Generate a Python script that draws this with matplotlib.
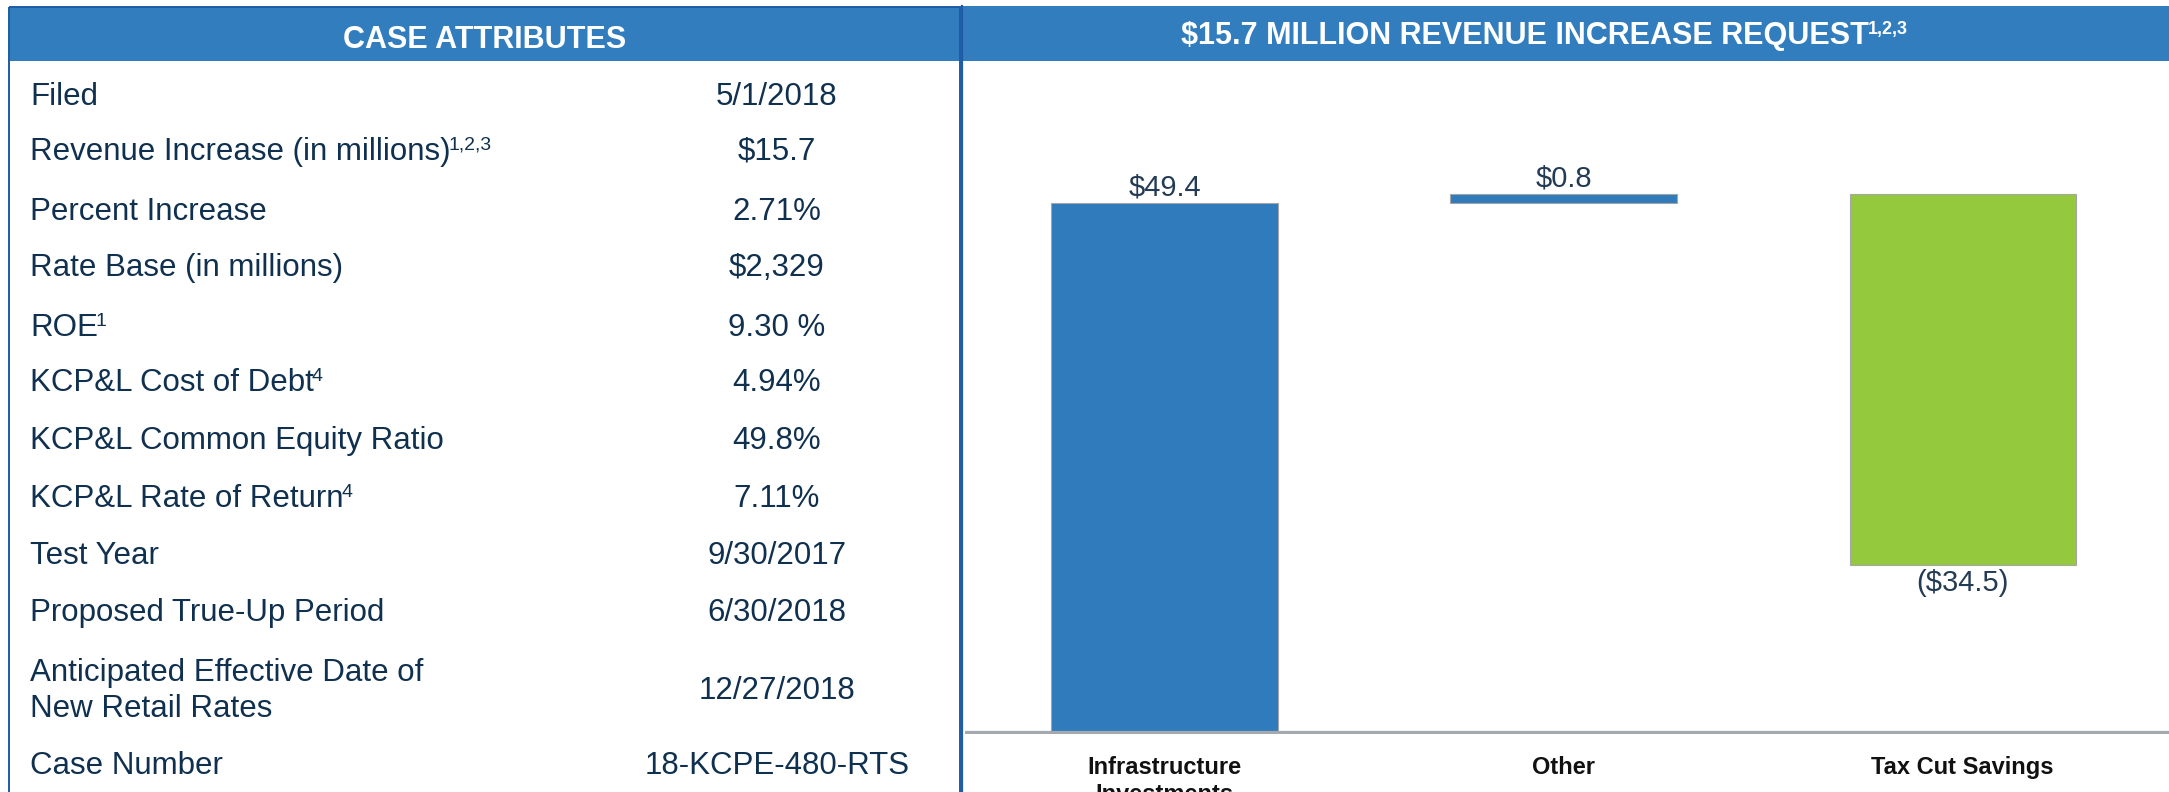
import matplotlib
matplotlib.use("Agg")
import matplotlib.pyplot as plt
from matplotlib.patches import Rectangle
import numpy as np

plt.rcParams["font.family"] = ["Liberation Sans", "DejaVu Sans"]

# ── Case attributes table ──
row_labels = [
    "Filed",
    "Revenue Increase (in millions)",
    "Percent Increase",
    "Rate Base (in millions)",
    "ROE",
    "KCP&L Cost of Debt",
    "KCP&L Common Equity Ratio",
    "KCP&L Rate of Return",
    "Test Year",
    "Proposed True-Up Period",
    "Anticipated Effective Date of\nNew Retail Rates",
    "Case Number",
]
row_notes = ["", "1,2,3", "", "", "1", "4", "", "4", "", "", "", ""]
row_values = [
    "5/1/2018", "$15.7", "2.71%", "$2,329", "9.30 %", "4.94%", "49.8%",
    "7.11%", "9/30/2017", "6/30/2018", "12/27/2018", "18-KCPE-480-RTS",
]

# ── Revenue bridge ──
categories = ["Infrastructure\nInvestments", "Other", "Tax Cut Savings"]
changes = [49.4, 0.8, -34.5]
bar_colors = ["#2F7BBC", "#2F7BBC", "#94C83D"]

left_title = "CASE ATTRIBUTES"
right_title = "$15.7 MILLION REVENUE INCREASE REQUEST"
right_note = "1,2,3"

W, H = 2169, 792
BLUE = "#317DBD"
EDGE = "#1E5CA8"
TXT = "#10304F"

fig = plt.figure(figsize=(W / 100, H / 100), dpi=100)

# panel frame drawn in pixel coordinates
bg = fig.add_axes([0, 0, 1, 1])
bg.set_xlim(0, W)
bg.set_ylim(H, 0)
bg.axis("off")

bg.add_patch(Rectangle((9, 7), 951, 54, color=BLUE, lw=0))
bg.add_patch(Rectangle((962, 6), W - 962, 55, color=BLUE, lw=0))
bg.add_patch(Rectangle((9, 7), 951, 830, fill=False, edgecolor=EDGE, lw=1.4))
bg.plot([962, 962], [6, H], color=EDGE, lw=1.6)

bg.text(485, 40, left_title, color="white", fontsize=22, fontweight="bold",
        ha="center", va="center")
t = bg.text(1525, 36, right_title, color="white", fontsize=22,
            fontweight="bold", ha="center", va="center")
bg.annotate(right_note, xy=(1, 1), xycoords=t, xytext=(-1, 0),
            textcoords="offset points", color="white", fontsize=13,
            fontweight="bold", ha="left", va="top")

row_y = [97, 152, 212, 268, 328, 383, 441, 499, 556, 613, 691, 766]
for lab, note, val, y in zip(row_labels, row_notes, row_values, row_y):
    lt = bg.text(30, y, lab, color=TXT, fontsize=22.5, ha="left",
                 va="center", linespacing=1.25)
    if note:
        bg.annotate(note, xy=(1, 1), xycoords=lt, xytext=(-1.5, 0),
                    textcoords="offset points", color=TXT, fontsize=14,
                    ha="left", va="top")
    bg.text(777, y, val, color=TXT, fontsize=22.5, ha="center", va="center")

# ── waterfall chart ──
ax = fig.add_axes([965 / W, (H - 734) / H, 1 - 965 / W, (734 - 60) / H])
ax.patch.set_alpha(0)

x = np.arange(len(categories))
ends = np.cumsum(changes)
starts = ends - np.array(changes)
bottoms = np.minimum(starts, ends)
heights = np.abs(changes)

ax.bar(x, heights, bottom=bottoms, width=0.567, color=bar_colors,
       edgecolor="#A5A5A5", linewidth=0.8, zorder=2)
ax.axhline(0, color="#A3A9AF", lw=4.5, zorder=3)

for xi, v, b, h in zip(x, changes, bottoms, heights):
    if v >= 0:
        ax.annotate(f"${v:.1f}", xy=(xi, b + h), xytext=(0, 1),
                    textcoords="offset points", ha="center", va="bottom",
                    fontsize=21, color="#243B55")
    else:
        ax.annotate(f"(${-v:.1f})", xy=(xi, b), xytext=(0, -3),
                    textcoords="offset points", ha="center", va="top",
                    fontsize=21, color="#243B55")

ax.set_xlim(-0.5, 2.517)
ax.set_ylim(0, 62.7)
ax.set_xticks(x)
ax.set_xticklabels(categories, fontsize=17, fontweight="bold", color="#111111")
ax.tick_params(axis="x", length=0, pad=16)
ax.set_yticks([])
for s in ax.spines.values():
    s.set_visible(False)

fig.savefig("out.png", dpi=100)
